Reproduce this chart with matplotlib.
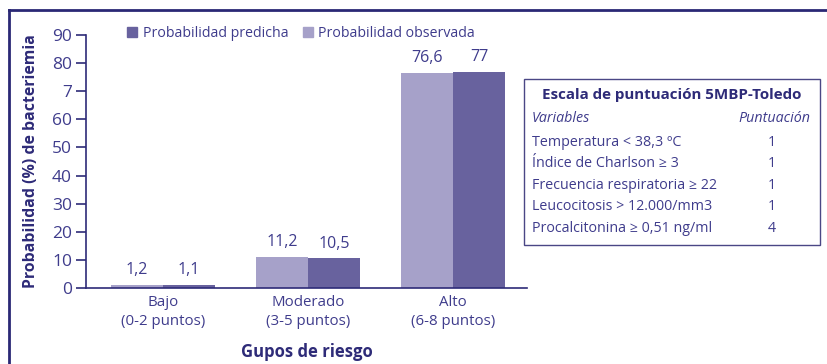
import matplotlib.pyplot as plt
from matplotlib.patches import Patch, Rectangle
from matplotlib.lines import Line2D
import numpy as np

plt.rcParams['font.family'] = ['Open Sans', 'DejaVu Sans']

grupos = ['Bajo\n(0-2 puntos)', 'Moderado\n(3-5 puntos)', 'Alto\n(6-8 puntos)']
observada = [1.2, 11.2, 76.6]
predicha = [1.1, 10.5, 77]
yticks = [0, 10, 20, 30, 40, 50, 60, 70, 80, 90]
ytick_labels = ['0', '10', '20', '30', '40', '50', '60', '7', '80', '90']

variables = ['Temperatura < 38,3 ºC', 'Índice de Charlson ≥ 3',
             'Frecuencia respiratoria ≥ 22', 'Leucocitosis > 12.000/mm3',
             'Procalcitonina ≥ 0,51 ng/ml']
puntos = [1, 1, 1, 1, 4]

c_obs = '#a6a1c9'
c_pred = '#68629e'
navy = '#2e2b78'
txt = '#3f3c8c'

fig = plt.figure(figsize=(8.28, 3.64), dpi=100)
W, H = 828, 364

ax = fig.add_axes([86 / W, 76 / H, 441 / W, 253 / H])
x = np.arange(len(grupos))
w = 0.36
b1 = ax.bar(x - w / 2, observada, w, color=c_obs)
b2 = ax.bar(x + w / 2, predicha, w, color=c_pred)

def fmt(v):
    return ('%g' % v).replace('.', ',')

for bars, vals in ((b1, observada), (b2, predicha)):
    for b, v in zip(bars, vals):
        ax.text(b.get_x() + b.get_width() / 2, v + 2.3, fmt(v),
                ha='center', va='bottom', fontsize=11.5, color=txt)

ax.set_xlim(-0.53, 2.51)
ax.set_ylim(0, 90)
ax.set_yticks(yticks)
ax.set_yticklabels(ytick_labels)
ax.set_xticks(x)
ax.set_xticklabels(grupos, fontsize=10.8, color=txt, linespacing=1.35)
ax.tick_params(axis='x', length=0, pad=5)
ax.tick_params(axis='y', length=7, width=1.2, color=navy, labelsize=12.5,
               labelcolor=txt, pad=3)
for s in ('top', 'right'):
    ax.spines[s].set_visible(False)
for s in ('left', 'bottom'):
    ax.spines[s].set_color(navy)
    ax.spines[s].set_linewidth(1.2)

ax.set_ylabel('Probabilidad (%) de bacteriemia', fontsize=11.4,
              fontweight='bold', color=navy)
ax.yaxis.set_label_coords(-0.106, 0.5)
ax.set_xlabel('Gupos de riesgo', fontsize=12, fontweight='bold',
              color=navy, labelpad=10)

handles = [Patch(color=c_pred, label='Probabilidad predicha'),
           Patch(color=c_obs, label='Probabilidad observada')]
ax.legend(handles=handles, ncol=2, frameon=False, loc='upper left',
          bbox_to_anchor=(0.065, 1.085), fontsize=10.2, handlelength=0.7,
          handleheight=0.7, handletextpad=0.4, columnspacing=1.0,
          labelcolor=txt)

# cuadro con la escala
fig.add_artist(Rectangle((524 / W, 1 - 245 / H), 296 / W, 166 / H,
                         transform=fig.transFigure, fill=False,
                         edgecolor='#4a4785', linewidth=1))
fig.text(672 / W, 1 - 95 / H, 'Escala de puntuación 5MBP-Toledo',
         ha='center', va='center', fontsize=10.9, fontweight='bold', color=navy)
fig.text(532 / W, 1 - 119 / H, 'Variables', ha='left', va='center',
         fontsize=10.3, style='italic', color=txt)
fig.text(810 / W, 1 - 119 / H, 'Puntuación', ha='right', va='center',
         fontsize=10.3, style='italic', color=txt)
for i, (v, p) in enumerate(zip(variables, puntos)):
    yy = 1 - (142.5 + i * 21.4) / H
    fig.text(532 / W, yy, v, ha='left', va='center', fontsize=10.3, color=txt)
    fig.text(772 / W, yy, str(p), ha='center', va='center', fontsize=10.3,
             color=txt)

# marco exterior
fig.add_artist(Line2D([8.5 / W, 1], [1 - 9.5 / H, 1 - 9.5 / H],
                      transform=fig.transFigure, color='#2a2875', linewidth=2))
fig.add_artist(Line2D([8.5 / W, 8.5 / W], [0, 1 - 9.5 / H],
                      transform=fig.transFigure, color='#2a2875', linewidth=2))

fig.savefig('out.png', dpi=100)
